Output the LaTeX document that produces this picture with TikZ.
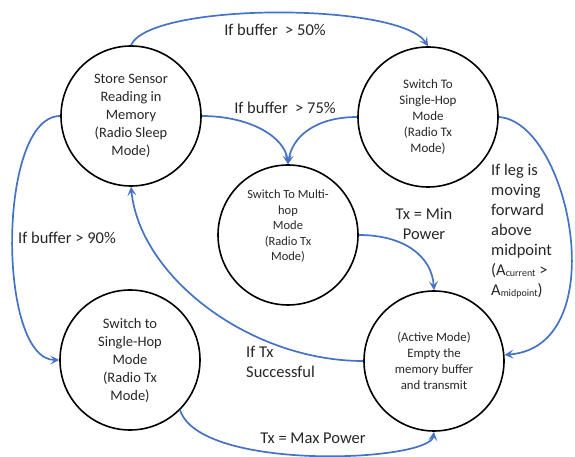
\documentclass[tikz,border=0pt]{standalone}
\usepackage{fontspec}
\setmainfont{Carlito}
\usetikzlibrary{arrows.meta}

\definecolor{arrowblue}{RGB}{68,114,196}
\definecolor{inkgrey}{RGB}{38,38,38}

\newcommand{\lowtxt}[1]{\raisebox{-1.2pt}{\fontsize{10}{10}\selectfont #1}}

\tikzset{
  state/.style={circle, draw, line width=1.6pt, minimum size=140pt, inner sep=0pt,
                align=center, text=inkgrey},
  trans/.style={draw=arrowblue, line width=1.7pt,
                -{Stealth[length=9pt,width=9pt,inset=4pt]}},
  lbl/.style={font=\fontsize{16.5}{20}\selectfont, text=inkgrey, inner sep=0pt}
}

\begin{document}
\begin{tikzpicture}[x=1pt,y=1pt]
                \useasboundingbox (0,0) rectangle (575,457);

                % Nodes
                \node[state, font=\fontsize{14.4}{18}\selectfont] (store) at (131,341)
                  {Store Sensor\\Reading in\\Memory\\(Radio Sleep\\Mode)};
                \node[state, font=\fontsize{13}{16}\selectfont] (single) at (428,340)
                  {Switch To\\Single-Hop\\Mode\\(Radio Tx\\Mode)};
                \node[state, font=\fontsize{12.5}{15.5}\selectfont] (multi) at (288,222)
                  {Switch To Multi-\\hop\\Mode\\(Radio Tx\\Mode)\\[4pt]\mbox{}};
                \node[state, font=\fontsize{12.8}{16}\selectfont] (active) at (434,96)
                  {(Active Mode)\\Empty the\\memory buffer\\and transmit};
                \node[state, font=\fontsize{14.5}{18}\selectfont] (single2) at (130,97)
                  {Switch to\\Single-Hop\\Mode\\(Radio Tx\\Mode)};

                % Labels
                \node[lbl] (l50) at (275,427) {If buffer\ \ > 50\%};
                \node[lbl] (l75) at (285,349) {If buffer\ \ > 75\%};
                \node[lbl, align=center] (lmin) at (424,233) {Tx = Min\\Power};
                \node[lbl, align=left, anchor=west] (lleg) at (491,226)
                  {If leg is\\moving\\forward\\above\\midpoint\\(A\lowtxt{current} >\\A\lowtxt{midpoint})};
                \node[lbl] (l90) at (67,219) {If buffer > 90\%};
                \node[lbl, align=left, anchor=west] (ltx) at (246,95) {If Tx\\Successful};
                \node[lbl] (lmax) at (313,19) {Tx = Max Power};

                % Edges
                \draw[trans] (store.north) .. controls (150,455) and (400,455) .. (single.north);
                \draw[trans] (store.east) .. controls (250,341) and (285,320) .. (multi.north);
                \draw[trans] (single.west) .. controls (315,340) and (292,320) .. (multi.north);
                \draw[trans] (multi.east) .. controls (405,222) and (432,200) .. (active.north);
                \draw[trans] (single.east) .. controls (570,335) and (615,110) .. (active.5);
                \draw[trans] (active.west) .. controls (250,96) and (140,180) .. (store.south);
                \draw[trans] (store.west) .. controls (-3,341) and (-3,97) .. (single2.west);
                \draw[trans] (single2.-45) .. controls (200,-15) and (430,-5) .. (active.south);
            \end{tikzpicture}
\end{document}
